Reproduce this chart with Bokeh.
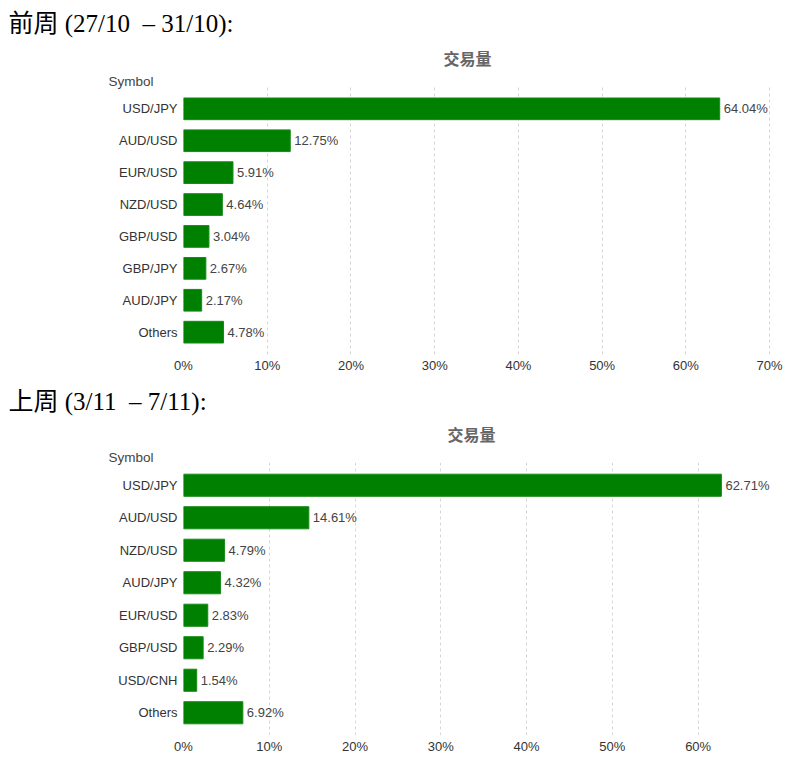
from bokeh.plotting import figure
from bokeh.layouts import column
from bokeh.models import (ColumnDataSource, FixedTicker, PrintfTickFormatter, Title,
                          Range1d, FactorRange)
from bokeh.core.properties import value
from bokeh.embed import file_html
from bokeh.resources import INLINE

heading1 = "前周 (27/10\u00a0 – 31/10):"
symbols1 = ["USD/JPY", "AUD/USD", "EUR/USD", "NZD/USD", "GBP/USD", "GBP/JPY", "AUD/JPY", "Others"]
values1 = [64.04, 12.75, 5.91, 4.64, 3.04, 2.67, 2.17, 4.78]
ticks1 = [0, 10, 20, 30, 40, 50, 60, 70]

heading2 = "上周 (3/11\u00a0 – 7/11):"
symbols2 = ["USD/JPY", "AUD/USD", "NZD/USD", "AUD/JPY", "EUR/USD", "GBP/USD", "USD/CNH", "Others"]
values2 = [62.71, 14.61, 4.79, 4.32, 2.83, 2.29, 1.54, 6.92]
ticks2 = [0, 10, 20, 30, 40, 50, 60]

chart_title = "交易量"
axis_name = "Symbol"

SANS = "Liberation Sans"
SERIF = "Liberation Serif, Noto Sans CJK SC"
CJK = "Noto Sans CJK SC"


def make_chart(heading, symbols, values, ticks, xmax, height, top, bottom,
               s_head, s_title, s_sym, title_off):
    src = ColumnDataSource(dict(sym=symbols, val=values,
                                lab=["%.2f%%" % v for v in values]))
    p = figure(width=802, height=height, output_backend="svg", toolbar_location=None,
               y_range=FactorRange(factors=list(reversed(symbols)),
                                   range_padding=0.2, range_padding_units="absolute"),
               x_range=Range1d(0, xmax),
               min_border_left=183, min_border_right=22,
               min_border_top=top, min_border_bottom=bottom)
    p.outline_line_color = None
    p.background_fill_color = "white"
    p.border_fill_color = "white"
    p.hbar(y="sym", right="val", left=0, height=0.68, source=src,
           fill_color="#008000", line_color="#178a17", line_width=1)
    p.text(x="val", y="sym", text="lab", source=src, x_offset=4,
           text_baseline="middle", text_align="left",
           text_font=value(SANS), text_font_size="13px", text_color="#444444")
    p.xaxis.ticker = FixedTicker(ticks=ticks)
    p.xaxis.formatter = PrintfTickFormatter(format="%d%%")
    for ax in (p.xaxis[0], p.yaxis[0]):
        ax.axis_line_color = None
        ax.major_tick_line_color = None
        ax.minor_tick_line_color = None
        ax.major_tick_out = 0
        ax.major_tick_in = 0
        ax.minor_tick_out = 0
        ax.major_label_text_font = SANS
        ax.major_label_text_font_size = "13px"
        ax.major_label_text_color = "#333333"
    p.xaxis.major_label_standoff = 3
    p.yaxis.major_label_standoff = 6
    p.xgrid.ticker = FixedTicker(ticks=ticks)
    p.xgrid.grid_line_color = "#d6d6d6"
    p.xgrid.grid_line_dash = "3 3"
    p.ygrid.grid_line_color = None
    # titles: the first one added sits closest to the frame
    p.add_layout(Title(text=axis_name, align="left", offset=-75, text_font=SANS,
                       text_font_size="13.5px", text_font_style="normal",
                       text_color="#444444", standoff=s_sym), "above")
    p.add_layout(Title(text=chart_title, align="left", offset=title_off, text_font=CJK,
                       text_font_size="16px", text_font_style="bold",
                       text_color="#666666", standoff=s_title), "above")
    p.add_layout(Title(text=heading, align="left", offset=-175, text_font=SERIF,
                       text_font_size="25px", text_font_style="normal",
                       text_color="#000000", standoff=s_head), "above")
    return p


p1 = make_chart(heading1, symbols1, values1, ticks1, 71.3, 377, 86, 23, 8, 7, -4, 260)
p2 = make_chart(heading2, symbols2, values2, ticks2, 69.6, 388, 85, 30, 4, 7, -4, 264)

layout = column(p1, p2, spacing=0)
open("out.html", "w").write(file_html(layout, INLINE))
